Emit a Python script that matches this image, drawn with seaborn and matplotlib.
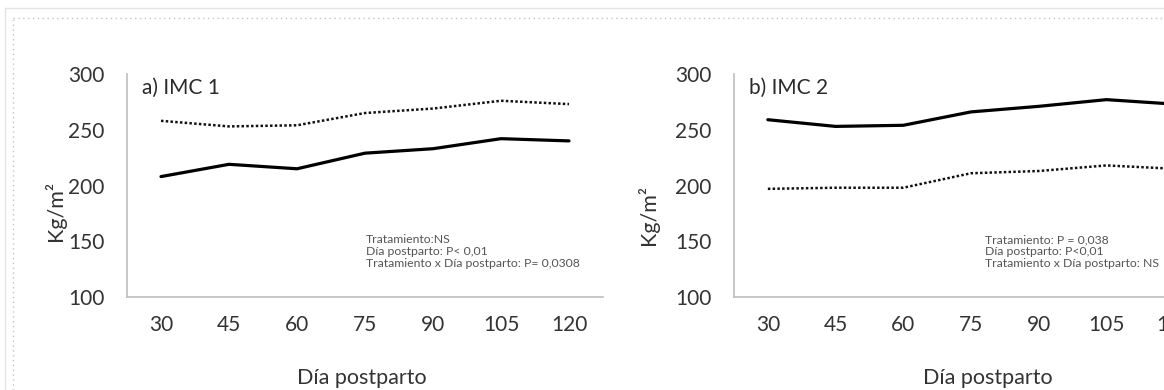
import matplotlib
matplotlib.use('Agg')
import matplotlib.pyplot as plt
import seaborn as sns
import pandas as pd
from matplotlib.lines import Line2D

# ---- data ----
days = [30, 45, 60, 75, 90, 105, 120]
imc1_solid = [208, 219, 215, 229, 233, 242, 240]
imc1_dotted = [258, 253, 254, 265, 269, 276, 273]
imc2_solid = [259, 253, 254, 266, 271, 277, 273]
imc2_dotted = [197, 198, 198, 211, 213, 218, 215]
yticks = [100, 150, 200, 250, 300]
titles = ['a) IMC 1', 'b) IMC 2']
stats_a = ['Tratamiento:NS', 'Día postparto: P< 0,01',
           'Tratamiento x Día postparto: P= 0,0308']
stats_b = ['Tratamiento: P = 0,038', 'Día postparto: P<0,01',
           'Tratamiento x Día postparto: NS']
xlabel = 'Día postparto'
ylabel = 'Kg/m²'

sns.set_style('white')
plt.rcParams['font.family'] = ['Lato', 'DejaVu Sans']

W, H = 1164, 390
fig = plt.figure(figsize=(W / 100, H / 100), dpi=100)
fig.patch.set_facecolor('white')

# decorative frame (light solid + dotted border)
fig.add_artist(Line2D([5 / W, 1], [1 - 8 / H, 1 - 8 / H], color='#e4e4e4', lw=1))
fig.add_artist(Line2D([5 / W, 5 / W], [0, 1 - 8 / H], color='#e4e4e4', lw=1))
fig.add_artist(Line2D([13 / W, 1], [1 - 18 / H, 1 - 18 / H], color='#c4c4c4',
                      lw=1, linestyle=(0, (1, 2.5))))
fig.add_artist(Line2D([13 / W, 13 / W], [0, 1 - 18 / H], color='#c4c4c4',
                      lw=1, linestyle=(0, (1, 2.5))))

panels = [
    dict(rect=[127 / W, 93 / H, 476 / W, 223 / H], solid=imc1_solid, dotted=imc1_dotted,
         title=titles[0], stats=stats_a, stats_x=0.502,
         xl=(0.493, -0.363), yl=(-0.151, 0.386)),
    dict(rect=[734 / W, 93 / H, 474 / W, 223 / H], solid=imc2_solid, dotted=imc2_dotted,
         title=titles[1], stats=stats_b, stats_x=0.5295,
         xl=(0.5365, -0.363), yl=(-0.181, 0.37)),
]

txt = '#333333'
for p in panels:
    ax = fig.add_axes(p['rect'])
    df = pd.DataFrame({'dia': days, 'solid': p['solid'], 'dotted': p['dotted']})
    sns.lineplot(data=df, x='dia', y='solid', ax=ax, color='black', lw=2.3,
                 solid_capstyle='round')
    sns.lineplot(data=df, x='dia', y='dotted', ax=ax, color='#111111', lw=1.8,
                 linestyle=(0, (1, 0.9)))
    ax.set_xlim(22.5, 127.5)
    ax.set_ylim(100, 300)
    ax.set_xticks(days)
    ax.set_xticklabels([str(d) for d in days])
    ax.set_yticks(yticks)
    ax.set_facecolor('white')
    for s in ['top', 'right']:
        ax.spines[s].set_visible(False)
    for s in ['left', 'bottom']:
        ax.spines[s].set_color('#bdbdbd')
        ax.spines[s].set_linewidth(1.2)
    ax.tick_params(axis='both', length=0, labelsize=15, colors=txt)
    ax.tick_params(axis='y', pad=16)
    ax.tick_params(axis='x', pad=13)
    ax.set_xlabel(xlabel, fontsize=15.5, color=txt)
    ax.xaxis.set_label_coords(*p['xl'])
    ax.xaxis.label.set_va('center')
    ax.set_ylabel(ylabel, fontsize=15.5, color=txt)
    ax.yaxis.set_label_coords(*p['yl'])
    ax.yaxis.label.set_va('center')
    ax.text(0.031, 0.94, p['title'], transform=ax.transAxes, fontsize=15,
            color='#2a2a2a', ha='left', va='center')
    for i, line in enumerate(p['stats']):
        ax.text(p['stats_x'], 0.258 - i * 0.054, line, transform=ax.transAxes,
                fontsize=8.8, color='#555555', ha='left', va='center', clip_on=False)

fig.savefig('out.png', dpi=100, facecolor='white')
